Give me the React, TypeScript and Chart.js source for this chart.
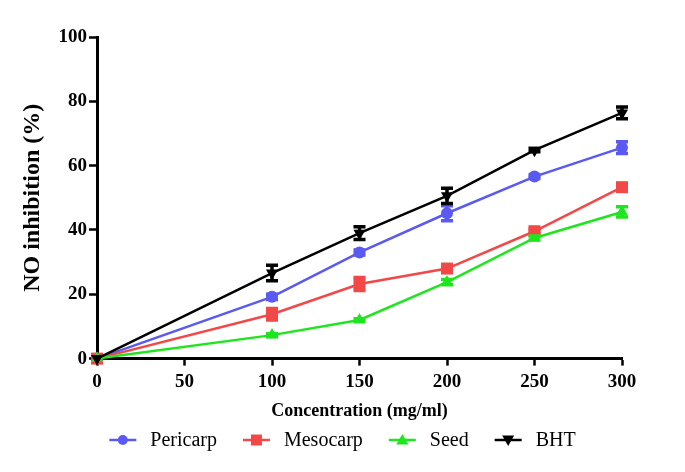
import React, { useEffect, useRef } from "react";
import { Chart, registerables } from "chart.js";

Chart.register(...registerables);

const concentrations = [0, 100, 150, 200, 250, 300];
const pericarp = [0, 19.2, 33.0, 45.2, 56.6, 65.6];
const pericarpErr = [0, 0.8, 0.8, 2.3, 0.6, 1.8];
const mesocarp = [0, 13.8, 23.2, 28.0, 39.6, 53.3];
const mesocarpErr = [0, 1.8, 2.0, 0.6, 0.6, 0.6];
const seed = [0, 7.3, 12.0, 23.8, 37.5, 45.6];
const seedErr = [0, 0.4, 0.4, 0.8, 0.6, 1.6];
const bht = [0, 26.6, 39.0, 50.6, 64.8, 76.4];
const bhtErr = [0, 2.4, 2.0, 2.4, 0.5, 1.8];
const seriesNames = ["Pericarp", "Mesocarp", "Seed", "BHT"];
const xAxisTitle = "Concentration (mg/ml)";
const yAxisTitle = "NO inhibition (%)";

const COLORS = ["#5a5af2", "#f24848", "#1ee61e", "#000000"];
const STYLES = ["circle", "rect", "triangle", "triangle"];
const ROTATIONS = [0, 0, 0, 180];
const RADII = [6, 8.5, 7, 7];

function drawLegendMarker(ctx: CanvasRenderingContext2D, i: number, cx: number, cy: number) {
  ctx.beginPath();
  if (i === 0) {
    ctx.arc(cx, cy, 5, 0, Math.PI * 2);
  } else if (i === 1) {
    ctx.rect(cx - 5.5, cy - 5.5, 11, 11);
  } else if (i === 2) {
    ctx.moveTo(cx, cy - 6);
    ctx.lineTo(cx + 6, cy + 4.5);
    ctx.lineTo(cx - 6, cy + 4.5);
    ctx.closePath();
  } else {
    ctx.moveTo(cx, cy + 6);
    ctx.lineTo(cx + 6, cy - 4.5);
    ctx.lineTo(cx - 6, cy - 4.5);
    ctx.closePath();
  }
  ctx.fill();
}

const legendPlugin = {
  id: "customLegend",
  afterDraw(chart: any) {
    const ctx: CanvasRenderingContext2D = chart.ctx;
    ctx.save();
    ctx.font = '20px "Liberation Serif"';
    ctx.textBaseline = "middle";
    ctx.textAlign = "left";
    const lineW = 27;
    const gapText = 14;
    const gapItem = 26;
    const widths = seriesNames.map((n) => lineW + gapText + ctx.measureText(n).width);
    const total = widths.reduce((a, b) => a + b, 0) + gapItem * (seriesNames.length - 1);
    let x = chart.width / 2 - total / 2;
    const y = chart.height - 32;
    seriesNames.forEach((name, i) => {
      ctx.strokeStyle = COLORS[i];
      ctx.fillStyle = COLORS[i];
      ctx.lineWidth = 2.5;
      ctx.beginPath();
      ctx.moveTo(x, y);
      ctx.lineTo(x + lineW, y);
      ctx.stroke();
      drawLegendMarker(ctx, i, x + lineW / 2, y);
      ctx.fillStyle = "#000";
      ctx.fillText(name, x + lineW + gapText, y + 1);
      x += widths[i] + gapItem;
    });
    ctx.restore();
  },
};

const errorBarPlugin = {
  id: "errorBars",
  afterDatasetsDraw(chart: any) {
    const ctx = chart.ctx;
    const yScale = chart.scales.y;
    chart.data.datasets.forEach((ds: any, i: number) => {
      const meta = chart.getDatasetMeta(i);
      const errs: number[] = ds.errors || [];
      ctx.save();
      ctx.strokeStyle = ds.borderColor;
      ctx.lineWidth = 3.5;
      meta.data.forEach((pt: any, j: number) => {
        const e = errs[j];
        if (!e) return;
        const v = ds.data[j].y;
        const yt = yScale.getPixelForValue(v + e);
        const yb = yScale.getPixelForValue(v - e);
        const x = pt.x;
        const cw = 6;
        ctx.beginPath();
        ctx.moveTo(x, yt);
        ctx.lineTo(x, yb);
        ctx.moveTo(x - cw, yt);
        ctx.lineTo(x + cw, yt);
        ctx.moveTo(x - cw, yb);
        ctx.lineTo(x + cw, yb);
        ctx.stroke();
      });
      ctx.restore();
    });
  },
};

export default function App() {
  const ref = useRef<HTMLCanvasElement>(null);
  useEffect(() => {
    const series = [pericarp, mesocarp, seed, bht];
    const errors = [pericarpErr, mesocarpErr, seedErr, bhtErr];
    const chart = new Chart(ref.current!, {
      type: "line",
      data: {
        datasets: seriesNames.map((name, i) => ({
          label: name,
          data: concentrations.map((x, j) => ({ x, y: series[i][j] })),
          errors: errors[i],
          borderColor: COLORS[i],
          backgroundColor: COLORS[i],
          borderWidth: 2.5,
          pointStyle: STYLES[i],
          rotation: ROTATIONS[i],
          pointRadius: RADII[i],
          pointHoverRadius: RADII[i],
          pointBorderWidth: 0,
          order: 4 - i,
          clip: false,
          tension: 0,
        })) as any,
      },
      options: {
        animation: false,
        responsive: false,
        devicePixelRatio: 1,
        layout: { padding: { left: 14, right: 63, top: 37, bottom: 50 } },
        plugins: {
          tooltip: { enabled: false },
          legend: { display: false },
        },
        scales: {
          x: {
            type: "linear",
            min: 0,
            max: 300,
            ticks: {
              stepSize: 50,
              color: "#000",
              padding: 5,
              font: { family: "Liberation Serif", size: 19, weight: "bold" },
            },
            grid: {
              drawOnChartArea: false,
              drawTicks: true,
              tickLength: 7,
              tickWidth: 2.5,
              tickColor: "#000",
            },
            border: { display: true, color: "#000", width: 3 },
            title: {
              display: true,
              text: xAxisTitle,
              color: "#000",
              padding: { top: 2, bottom: 0 },
              font: { family: "Liberation Serif", size: 18, weight: "bold" },
            },
          },
          y: {
            type: "linear",
            min: 0,
            max: 100,
            afterFit: (scale: any) => {
              scale.width = 83;
            },
            ticks: {
              stepSize: 20,
              color: "#000",
              padding: 2,
              font: { family: "Liberation Serif", size: 19, weight: "bold" },
            },
            grid: {
              drawOnChartArea: false,
              drawTicks: true,
              tickLength: 8,
              tickWidth: 2.5,
              tickColor: "#000",
            },
            border: { display: true, color: "#000", width: 3 },
            title: {
              display: true,
              text: yAxisTitle,
              color: "#000",
              padding: { top: 4, bottom: 0 },
              font: { family: "Liberation Serif", size: 24, weight: "bold" },
            },
          },
        },
      },
      plugins: [errorBarPlugin, legendPlugin],
    });
    return () => chart.destroy();
  }, []);
  return (
    <div style={{ position: "absolute", left: 0, top: 0, width: 685, height: 472, background: "#fff" }}>
      <canvas ref={ref} width={685} height={472} />
    </div>
  );
}
